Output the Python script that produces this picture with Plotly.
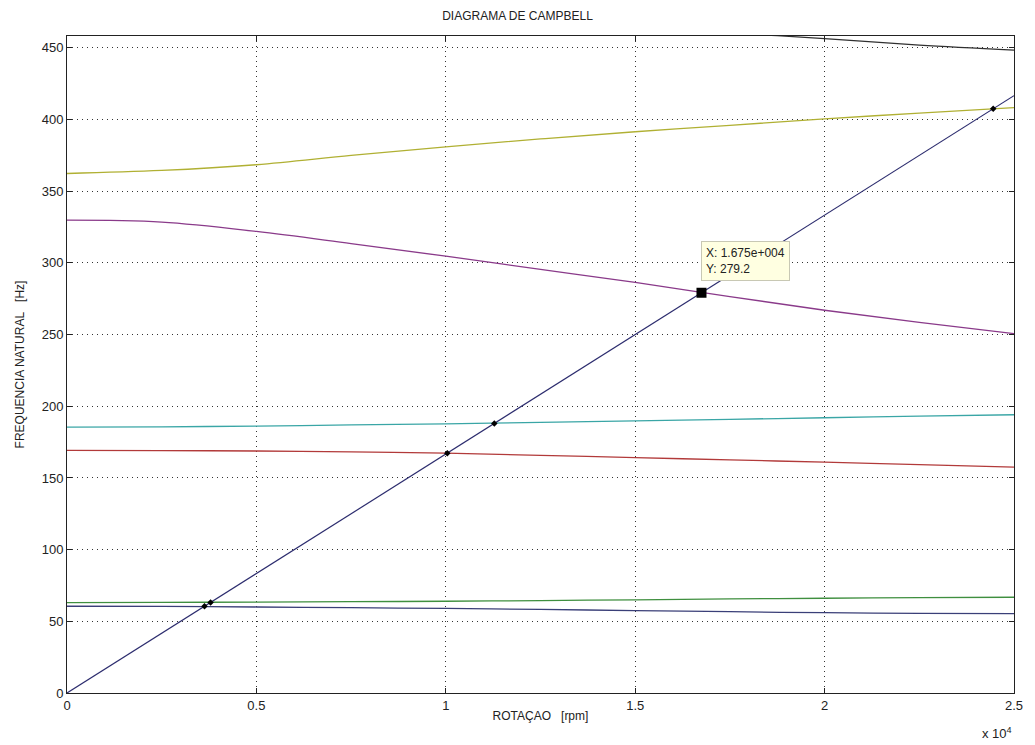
import plotly.graph_objects as go

# Rotor speed samples [rpm]
rpm = [0, 2500, 5000, 7500, 10000, 12500, 15000, 17500, 20000, 22500, 25000]

# Natural frequency branches [Hz]
mode_blue = [60.5, 60.4, 60.0, 59.5, 59.0, 58.3, 57.5, 56.7, 56.0, 55.6, 55.3]
mode_green = [63.1, 63.2, 63.4, 63.7, 64.0, 64.5, 65.0, 65.6, 66.1, 66.5, 66.8]
mode_red = [169.2, 169.1, 168.8, 168.2, 167.3, 165.8, 164.2, 162.6, 161.0, 159.3, 157.6]
mode_cyan = [185.5, 185.7, 186.2, 187.0, 187.8, 188.8, 189.8, 190.9, 192.0, 193.1, 194.1]
mode_purple = [329.8, 328.5, 322.0, 313.5, 304.7, 295.5, 286.5, 276.5, 267.0, 258.5, 250.7]
mode_yellow = [362.4, 364.5, 368.5, 375.0, 381.0, 386.5, 391.5, 396.0, 400.5, 404.5, 408.3]
mode_black = [492.0, 489.5, 486.0, 481.5, 476.0, 470.5, 465.0, 460.5, 456.5, 452.0, 448.5]

# 1X excitation line
excit_rpm = [0, 25000]
excit_hz = [0, 416.7]

# Crossing points between the 1X line and the modes
cross_rpm = [3630, 3790, 10040, 11280, 24450]
cross_hz = [60.5, 63.2, 167.3, 188.0, 407.5]

# Highlighted point
tip_rpm = 16750
tip_hz = 279.2

x_ticks = [0, 5000, 10000, 15000, 20000, 25000]
x_tick_text = ["0", "0.5", "1", "1.5", "2", "2.5"]
y_ticks = [0, 50, 100, 150, 200, 250, 300, 350, 400, 450]

FONT = "Liberation Sans, Arial, sans-serif"

fig = go.Figure()

modes = [
    (mode_blue, "#3a3f78"),
    (mode_green, "#3f8f3f"),
    (mode_red, "#b23a3a"),
    (mode_cyan, "#3aa6a6"),
    (mode_purple, "#8a3a8a"),
    (mode_yellow, "#b0b033"),
    (mode_black, "#303030"),
]
for vals, col in modes:
    fig.add_trace(go.Scatter(x=rpm, y=vals, mode="lines",
                             line=dict(color=col, width=1.3),
                             line_shape="spline", showlegend=False))

fig.add_trace(go.Scatter(x=excit_rpm, y=excit_hz, mode="lines",
                         line=dict(color="#2c2c6e", width=1.2), showlegend=False))

fig.add_trace(go.Scatter(x=cross_rpm, y=cross_hz, mode="markers",
                         marker=dict(color="black", size=5, symbol="diamond"),
                         showlegend=False))

fig.add_trace(go.Scatter(x=[tip_rpm], y=[tip_hz], mode="markers",
                         marker=dict(color="black", size=10, symbol="square"),
                         showlegend=False))

fig.add_annotation(x=tip_rpm, y=tip_hz, xref="x", yref="y",
                   text="X: 1.675e+004<br>Y: 279.2", showarrow=False,
                   xanchor="left", yanchor="bottom", xshift=0, yshift=12,
                   align="left", bgcolor="#ffffe1", bordercolor="#c8c8b4",
                   borderwidth=1, borderpad=4,
                   font=dict(family=FONT, size=12, color="#222"))

fig.add_annotation(text="x 10<sup>4</sup>", xref="paper", yref="paper",
                   x=1.0, y=-0.076, xanchor="right", yanchor="bottom",
                   showarrow=False, font=dict(family=FONT, size=13, color="#222"))

fig.update_layout(
    width=1035, height=745,
    margin=dict(l=67, r=17, t=36, b=52),
    paper_bgcolor="white", plot_bgcolor="white",
    font=dict(family=FONT, size=13, color="#222"),
    title=dict(text="DIAGRAMA DE CAMPBELL", x=0.5, xanchor="center",
               y=0.985, yanchor="top", font=dict(family=FONT, size=12, color="#222")),
)

fig.update_xaxes(
    range=[0, 25000], tickvals=x_ticks, ticktext=x_tick_text,
    ticks="inside", ticklen=5, tickcolor="#222", mirror="allticks",
    showline=True, linecolor="#222", linewidth=1,
    showgrid=True, gridcolor="#333", griddash="1px,4px", gridwidth=1,
    zeroline=False, tickfont=dict(family=FONT, size=13, color="#222"),
    title=dict(text="ROTAÇAO\u00a0\u00a0\u00a0[rpm]", standoff=0,
               font=dict(family=FONT, size=12, color="#222")),
)
fig.update_yaxes(
    range=[0, 458.3], tickvals=y_ticks,
    ticks="inside", ticklen=5, tickcolor="#222", mirror="allticks",
    showline=True, linecolor="#222", linewidth=1,
    showgrid=True, gridcolor="#333", griddash="1px,4px", gridwidth=1,
    zeroline=False, tickfont=dict(family=FONT, size=13, color="#222"),
    title=dict(text="FREQUENCIA NATURAL\u00a0\u00a0\u00a0[Hz]", standoff=14,
               font=dict(family=FONT, size=12, color="#222")),
)

fig.write_html("out.html")
